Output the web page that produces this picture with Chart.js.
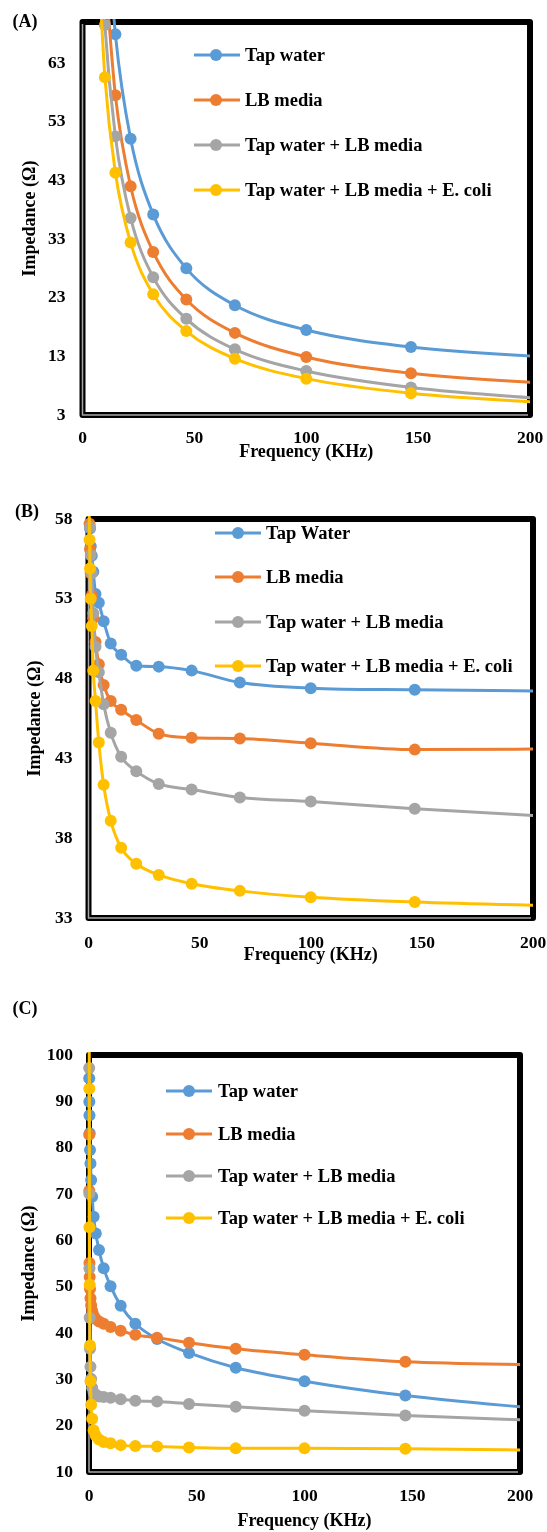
<!DOCTYPE html>
<html>
<head>
<meta charset="utf-8">
<script src="https://cdn.jsdelivr.net/npm/chart.js@4.4.0/dist/chart.umd.min.js"></script>
<style>
  body { margin: 0; background: #fff; width: 547px; height: 1532px; position: relative; overflow: hidden; }
  canvas { position: absolute; left: 0; }
</style>
</head>
<body>
<canvas id="chartA" width="547" height="490" style="top:0px"></canvas>
<canvas id="chartB" width="547" height="500" style="top:490px"></canvas>
<canvas id="chartC" width="547" height="542" style="top:990px"></canvas>
<script>
const namesA = ["Tap water", "LB media", "Tap water + LB media", "Tap water + LB media + E. coli"];
const namesB = ["Tap Water", "LB media", "Tap water + LB media", "Tap water + LB media + E. coli"];
const colors = ["#5B9BD5", "#ED7D31", "#A5A5A5", "#FFC000"];

const xTicks = [0, 50, 100, 150, 200];

// panel A (kHz)
const freqA = [6.81, 10, 14.7, 21.5, 31.6, 46.4, 68.1, 100, 146.8, 215.4];
const tapA = [null, 92, 67.9, 50.1, 37.2, 28.0, 21.7, 17.5, 14.6, 12.7];
const lbA = [null, 79, 57.5, 42.0, 30.8, 22.7, 17.0, 12.9, 10.1, 8.2];
const tapLbA = [95, 69.5, 50.5, 36.6, 26.5, 19.4, 14.2, 10.5, 7.7, 5.5];
const ecoliA = [83, 60.6, 44.3, 32.4, 23.6, 17.3, 12.6, 9.2, 6.7, 4.9];
const yTicksA = [3, 13, 23, 33, 43, 53, 63];

// panels B and C share the same sweep
const freqBC = [0.1, 0.147, 0.215, 0.316, 0.464, 0.681, 1, 1.47, 2.15, 3.16, 4.64, 6.81, 10, 14.7, 21.5, 31.6, 46.4, 68.1, 100, 146.8, 215.4];

const tapB = [null, null, null, null, null, 57.4, 56.3, 55.7, 54.7, 53.3, 52.75, 51.6, 50.2, 49.5, 48.8, 48.75, 48.5, 47.75, 47.4, 47.3, 47.2];
const lbB = [null, null, null, null, 57.7, 56.1, 54.6, 53.2, 51.8, 50.3, 48.9, 47.6, 46.6, 46.05, 45.4, 44.55, 44.3, 44.25, 43.95, 43.55, 43.6];
const tapLbB = [null, null, null, null, null, 57.5, 55.75, 54.6, 52.1, 50.0, 48.4, 46.4, 44.6, 43.1, 42.2, 41.4, 41.05, 40.55, 40.3, 39.85, 39.3];
const ecoliB = [null, null, null, 58.4, 56.7, 54.9, 53.0, 51.3, 48.5, 46.6, 44.0, 41.35, 39.1, 37.4, 36.4, 35.7, 35.15, 34.7, 34.3, 34.0, 33.75];
const yTicksB = [33, 38, 43, 48, 53, 58];

const tapC = [95.0, 89.9, 87.0, 83.1, 79.5, 76.6, 73.0, 69.4, 65.1, 61.5, 57.9, 54.0, 50.1, 45.9, 42.0, 38.7, 35.7, 32.5, 29.6, 26.5, 23.4];
const lbC = [82.8, 70.7, 55.1, 52.1, 49.5, 47.5, 46.0, 44.8, 43.8, 43.0, 42.5, 42.0, 41.3, 40.5, 39.6, 39.0, 37.9, 36.6, 35.3, 33.8, 33.1];
const tapLbC = [97.2, 70.1, 54.0, 43.3, 36.6, 32.7, 30.1, 28.2, 27.1, 26.7, 26.3, 26.2, 26.0, 25.7, 25.4, 25.2, 24.7, 24.1, 23.2, 22.2, 21.0];
const ecoliC = [104, 92.7, 62.8, 50.4, 37.3, 29.6, 24.5, 21.5, 19.0, 17.8, 17.0, 16.5, 16.2, 15.8, 15.6, 15.5, 15.3, 15.1, 15.1, 15.0, 14.7];
const yTicksC = [10, 20, 30, 40, 50, 60, 70, 80, 90, 100];

const FONT = "'Liberation Serif', 'Times New Roman', serif";
Chart.defaults.font.family = FONT;
Chart.defaults.font.weight = "bold";
Chart.defaults.color = "#000";

const decor = {
  id: "decor",
  beforeDatasetsDraw(chart) {
    const { ctx, chartArea: a } = chart;
    ctx.save();
    ctx.lineJoin = "round";
    ctx.strokeStyle = "#000";
    ctx.lineWidth = 6;
    ctx.strokeRect(a.left, a.top, a.right - a.left, a.bottom - a.top);
    ctx.strokeStyle = "#a6a6a6";
    ctx.lineWidth = 1.5;
    ctx.beginPath();
    ctx.moveTo(a.left, a.top + 2);
    ctx.lineTo(a.left, a.bottom);
    ctx.lineTo(a.right - 2, a.bottom);
    ctx.stroke();
    ctx.restore();
  },
  afterDraw(chart, args, o) {
    const ctx = chart.ctx;
    ctx.save();
    ctx.font = "bold 18px " + FONT;
    ctx.fillStyle = "#000";
    ctx.textAlign = "center";
    ctx.textBaseline = "middle";
    ctx.fillText(o.label, o.labelX, o.labelY);
    ctx.font = "bold 18.5px " + FONT;
    ctx.textAlign = "left";
    o.names.forEach((name, i) => {
      const y = o.legendY[i];
      ctx.strokeStyle = colors[i];
      ctx.lineWidth = 3;
      ctx.beginPath();
      ctx.moveTo(o.x1, y);
      ctx.lineTo(o.x2, y);
      ctx.stroke();
      ctx.fillStyle = colors[i];
      ctx.beginPath();
      ctx.arc(o.dotX, y, 6, 0, Math.PI * 2);
      ctx.fill();
      ctx.fillStyle = "#000";
      ctx.fillText(name, o.textX, y + 1);
    });
    ctx.restore();
  }
};

function buildChart(id, p) {
  const datasets = p.series.map((vals, i) => ({
    label: p.names[i],
    data: p.freq.map((f, j) => ({ x: f, y: vals[j] })).filter(pt => pt.y !== null),
    borderColor: colors[i],
    backgroundColor: colors[i],
    borderWidth: 3,
    pointRadius: 6,
    pointHoverRadius: 6,
    pointBorderWidth: 0,
    cubicInterpolationMode: "monotone",
    order: 4 - i,
    clip: { left: 8, top: 3, right: 0, bottom: 0 }
  }));

  // tick gap goes through tickLength (grid hidden) so it does not pad the chart area
  return new Chart(document.getElementById(id), {
    type: "line",
    data: { datasets },
    plugins: [decor],
    options: {
      responsive: false,
      animation: false,
      events: [],
      layout: { padding: p.padding, autoPadding: false },
      plugins: {
        legend: { display: false },
        tooltip: { enabled: false },
        decor: p.decor
      },
      scales: {
        x: {
          type: "linear",
          min: 0,
          max: 200,
          grid: { display: false, drawTicks: true, tickLength: p.xPad },
          border: { display: false },
          ticks: { padding: 0, font: { size: 17.5, weight: "bold" }, maxRotation: 0, autoSkip: false },
          afterBuildTicks: s => { s.ticks = xTicks.map(v => ({ value: v })); },
          afterFit: s => { s.height = p.xH; },
          title: { display: true, text: "Frequency (KHz)", font: { size: 18, weight: "bold" }, padding: { top: 0, bottom: p.xTitlePad } }
        },
        y: {
          type: "linear",
          min: p.yMin,
          max: p.yMax,
          grid: { display: false, drawTicks: true, tickLength: p.yPad },
          border: { display: false },
          ticks: { padding: 0, font: { size: 17.5, weight: "bold" }, autoSkip: false },
          afterBuildTicks: s => { s.ticks = p.yTicks.map(v => ({ value: v })); },
          afterFit: s => { s.width = p.yW; },
          title: { display: true, text: "Impedance (Ω)", font: { size: 18, weight: "bold" }, padding: { top: 4, bottom: 4 } }
        }
      }
    }
  });
}

buildChart("chartA", {
  names: namesA,
  freq: freqA,
  series: [tapA, lbA, tapLbA, ecoliA],
  yMin: 3, yMax: 70, yTicks: yTicksA,
  padding: { top: 22, left: 16, right: 17, bottom: 23 },
  yW: 66.5, xH: 52, xPad: 13, yPad: 17, xTitlePad: 4,
  decor: {
    label: "(A)", labelX: 25, labelY: 22, names: namesA,
    legendY: [55, 100, 145, 190], x1: 194, x2: 240, dotX: 216, textX: 245
  }
});

buildChart("chartB", {
  names: namesB,
  freq: freqBC,
  series: [tapB, lbB, tapLbB, ecoliB],
  yMin: 33, yMax: 58, yTicks: yTicksB,
  padding: { top: 29, left: 21, right: 14, bottom: 20 },
  yW: 67.5, xH: 52, xPad: 15, yPad: 16, xTitlePad: 4,
  decor: {
    label: "(B)", labelX: 27, labelY: 22, names: namesB,
    legendY: [43, 87, 132, 176], x1: 215, x2: 261, dotX: 238, textX: 266
  }
});

buildChart("chartC", {
  names: namesA,
  freq: freqBC,
  series: [tapC, lbC, tapLbC, ecoliC],
  yMin: 10, yMax: 100, yTicks: yTicksC,
  padding: { top: 65, left: 15, right: 27, bottom: 0 },
  yW: 74, xH: 60, xPad: 14, yPad: 16, xTitlePad: 0,
  decor: {
    label: "(C)", labelX: 25, labelY: 19, names: namesA,
    legendY: [101, 144, 186, 228], x1: 166, x2: 212, dotX: 189, textX: 218
  }
});
</script>
</body>
</html>
